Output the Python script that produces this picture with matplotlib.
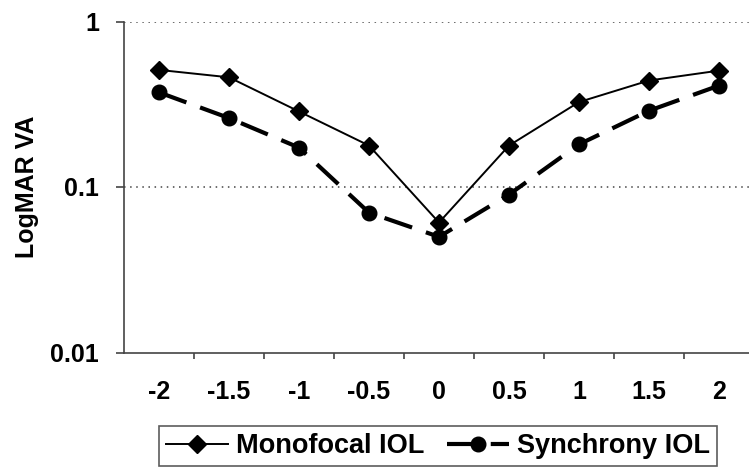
import matplotlib
matplotlib.use("Agg")
import matplotlib.pyplot as plt
from matplotlib.ticker import FixedLocator, NullLocator

# defocus (D) and mean LogMAR VA
defocus = ["-2", "-1.5", "-1", "-0.5", "0", "0.5", "1", "1.5", "2"]
monofocal = [0.51, 0.46, 0.286, 0.178, 0.061, 0.178, 0.326, 0.44, 0.505]
synchrony = [0.373, 0.261, 0.173, 0.07, 0.050, 0.090, 0.181, 0.289, 0.41]

plt.rcParams['font.family'] = ['Liberation Sans', 'DejaVu Sans']
plt.rcParams['font.weight'] = 'bold'

fig = plt.figure(figsize=(7.49, 4.68), dpi=100)
ax = fig.add_axes([124 / 749, 115.5 / 468, 630 / 749, 331 / 468])

x = list(range(len(defocus)))
ax.plot(x, monofocal, color='black', lw=1.4, marker='D', ms=9,
        label='Monofocal IOL', zorder=3)
ax.plot(x, synchrony, color='black', lw=3, marker='o', ms=10.5,
        dashes=(7, 3.5), label='Synchrony IOL', zorder=3)

ax.set_yscale('log')
ax.set_ylim(0.01, 1)
ax.set_xlim(-0.5, len(defocus) - 0.5)

ax.yaxis.set_major_locator(FixedLocator([0.01, 0.1, 1]))
ax.yaxis.set_minor_locator(NullLocator())
ax.set_yticklabels(['0.01', '0.1', '1'])
ax.tick_params(axis='y', which='major', length=6, width=1.2, color='#444444',
               pad=12, labelsize=18)

ax.set_xticks(x)
ax.set_xticklabels(defocus)
ax.xaxis.set_minor_locator(FixedLocator([i + 0.5 for i in x[:-1]]))
ax.tick_params(axis='x', which='major', length=0, pad=20, labelsize=18)
ax.tick_params(axis='x', which='minor', length=4.5, width=1.2, color='#444444')

for v in [0.1, 1]:
    ax.axhline(v, color='#444444', lw=1.1, ls=(0, (1, 3)), zorder=1)

for side in ['top', 'right']:
    ax.spines[side].set_visible(False)
for side in ['left', 'bottom']:
    ax.spines[side].set_color('#444444')
    ax.spines[side].set_linewidth(1.2)

ax.set_ylabel('LogMAR VA', fontsize=18, fontweight='bold', labelpad=8)

leg = fig.legend(loc='center', bbox_to_anchor=(438 / 749, 1 - 446 / 468),
                 ncol=2, frameon=True, fancybox=False, edgecolor='#333333',
                 fontsize=19.5, handlelength=2.3, handletextpad=0.3,
                 columnspacing=0.8, borderpad=0.25, borderaxespad=0)
leg.get_frame().set_linewidth(1.2)

fig.savefig('out.png', dpi=100)
